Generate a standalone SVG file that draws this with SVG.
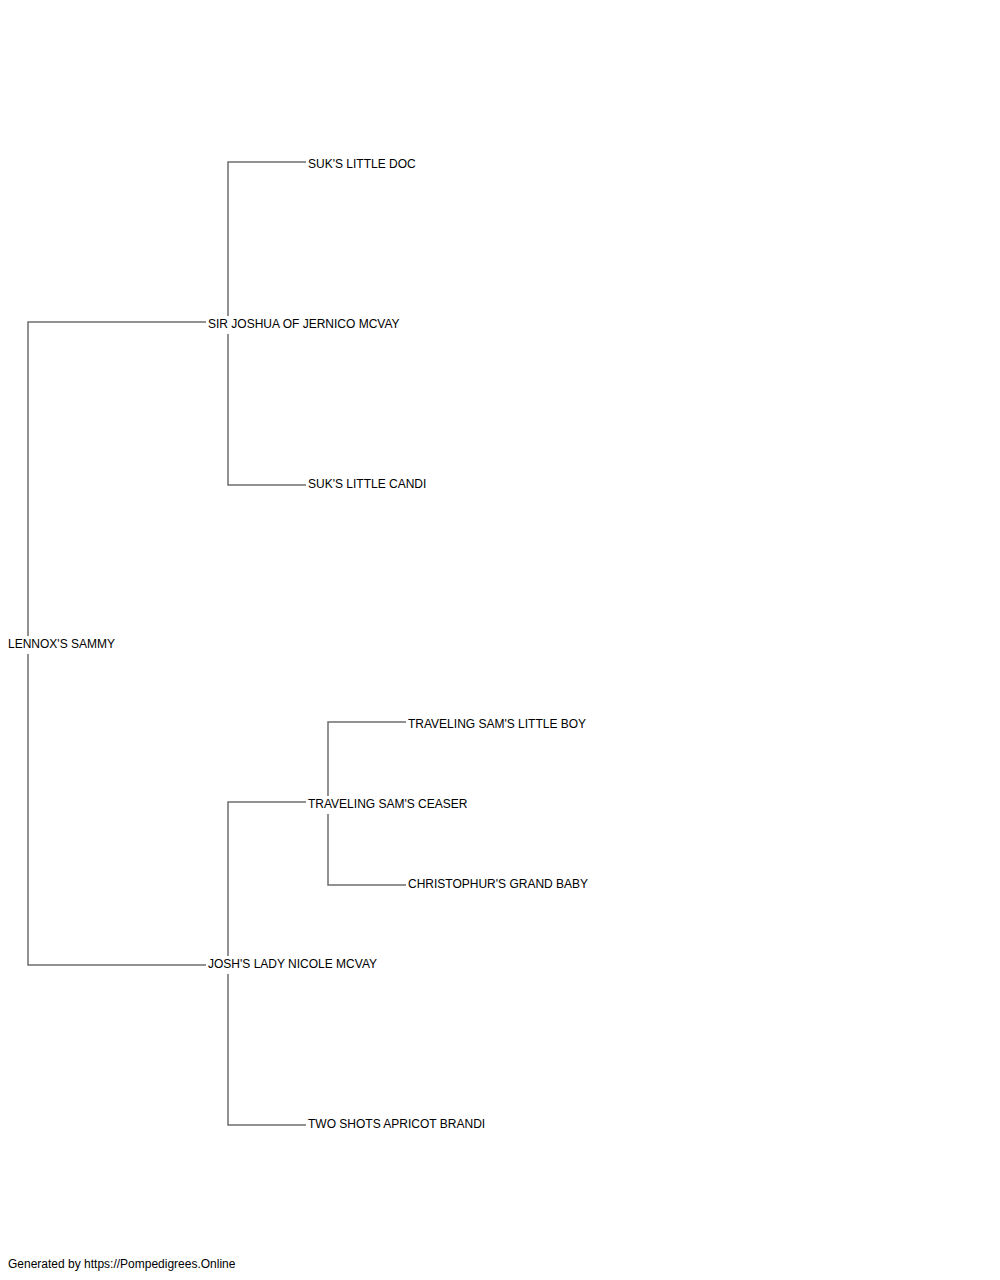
<svg xmlns="http://www.w3.org/2000/svg" width="1000" height="1280" viewBox="0 0 1000 1280">
<style>
.l{stroke:#6e6e6e;stroke-width:1.5;fill:none}
text{font-family:"Liberation Sans",Arial,sans-serif;font-size:12px;fill:#000}
</style>
<rect width="1000" height="1280" fill="#fff"/>
<g id="connectors">
<path class="l" d="M206 322H28V636M28 654V965H206"/>
<path class="l" d="M306 162H228V316M228 334V485H306"/>
<path class="l" d="M306 802H228V956M228 974V1125H306"/>
<path class="l" d="M406 722H328V796M328 814V885H406"/>
</g>
<g id="n1"><text x="8" y="648">LENNOX'S SAMMY</text></g>
<g id="n2"><text x="208" y="328">SIR JOSHUA OF JERNICO MCVAY</text></g>
<g id="n3"><text x="308" y="168">SUK'S LITTLE DOC</text></g>
<g id="n4"><text x="308" y="488">SUK'S LITTLE CANDI</text></g>
<g id="n5"><text x="208" y="968">JOSH'S LADY NICOLE MCVAY</text></g>
<g id="n6"><text x="308" y="808">TRAVELING SAM'S CEASER</text></g>
<g id="n7"><text x="408" y="728">TRAVELING SAM'S LITTLE BOY</text></g>
<g id="n8"><text x="408" y="888">CHRISTOPHUR'S GRAND BABY</text></g>
<g id="n9"><text x="308" y="1128">TWO SHOTS APRICOT BRANDI</text></g>
<g id="footer"><text x="8" y="1268">Generated by https://Pompedigrees.Online</text></g>
</svg>
